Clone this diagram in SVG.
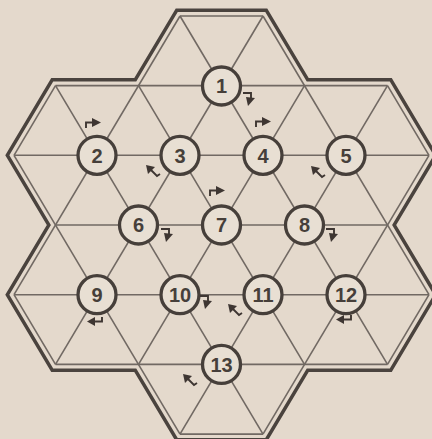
<svg xmlns="http://www.w3.org/2000/svg" width="432" height="439" viewBox="0 0 432 439">
<style>
.bg{fill:#e4d9cc}
.ln{stroke:#716963;stroke-width:1.6;fill:none}
.nd circle{fill:#e8dfd3;stroke:#463f3a;stroke-width:3.3}
.nd text{font-family:"Liberation Sans",Arial,sans-serif;font-weight:bold;font-size:20px;fill:#463f3a;text-anchor:middle}
.ar{fill:#3e3632;stroke:none}
.as{fill:none;stroke:#3e3632;stroke-width:1.9}
</style>
<defs>
<g id="R"><path class="as" d="M1,10 V4.5 H8"/><polygon class="ar" points="7,0 16,4.5 7,9"/></g>
<g id="D"><path class="as" d="M0,1 H8 V6"/><polygon class="ar" points="3,5 12,6 5,14"/></g>
<g id="UL"><polygon class="ar" points="0,0 9,2 2,9"/><path class="as" d="M4,4 L11,11 L14,9"/></g>
<g id="L"><polygon class="ar" points="0,4.5 8,0 8,9"/><path class="as" d="M7,4.5 H15 V0"/></g>
</defs>
<rect class="bg" x="0" y="0" width="432" height="439"/>
<g id="outline">
<polygon points="180,16 263,16 304.5,85.6 387.5,85.6 429,155.3 387.5,225 429,294.7 387.5,364.4 304.5,364.4 263,434.1 180,434.1 138.5,364.4 55.5,364.4 14,294.7 55.5,225 14,155.3 55.5,85.6 138.5,85.6" fill="none" stroke="#4a433e" stroke-width="15" stroke-linejoin="miter"/>
<polygon class="bg" points="180,16 263,16 304.5,85.6 387.5,85.6 429,155.3 387.5,225 429,294.7 387.5,364.4 304.5,364.4 263,434.1 180,434.1 138.5,364.4 55.5,364.4 14,294.7 55.5,225 14,155.3 55.5,85.6 138.5,85.6" stroke="#e4d9cc" stroke-width="8" stroke-linejoin="miter"/>
</g>
<g id="connectors" class="ln">
<line x1="180" y1="16" x2="263" y2="16"/>
<line x1="55.5" y1="85.6" x2="387.5" y2="85.6"/>
<line x1="14" y1="155.3" x2="429" y2="155.3"/>
<line x1="55.5" y1="225" x2="387.5" y2="225"/>
<line x1="14" y1="294.7" x2="429" y2="294.7"/>
<line x1="55.5" y1="364.4" x2="387.5" y2="364.4"/>
<line x1="180" y1="434.1" x2="263" y2="434.1"/>
<line x1="14" y1="294.7" x2="55.5" y2="364.4"/>
<line x1="14" y1="155.3" x2="180" y2="434.1"/>
<line x1="55.5" y1="85.6" x2="263" y2="434.1"/>
<line x1="138.5" y1="85.6" x2="304.5" y2="364.4"/>
<line x1="180" y1="16" x2="387.5" y2="364.4"/>
<line x1="263" y1="16" x2="429" y2="294.7"/>
<line x1="387.5" y1="85.6" x2="429" y2="155.3"/>
<line x1="429" y1="294.7" x2="387.5" y2="364.4"/>
<line x1="429" y1="155.3" x2="263" y2="434.1"/>
<line x1="387.5" y1="85.6" x2="180" y2="434.1"/>
<line x1="304.5" y1="85.6" x2="138.5" y2="364.4"/>
<line x1="263" y1="16" x2="55.5" y2="364.4"/>
<line x1="180" y1="16" x2="14" y2="294.7"/>
<line x1="55.5" y1="85.6" x2="14" y2="155.3"/>
</g>
<g id="n1" class="nd"><circle cx="221.5" cy="86" r="19"/><text x="221.5" y="93.2">1</text></g>
<g id="n2" class="nd"><circle cx="97" cy="155.3" r="19"/><text x="97" y="162.5">2</text></g>
<g id="n3" class="nd"><circle cx="180" cy="155.3" r="19"/><text x="180" y="162.5">3</text></g>
<g id="n4" class="nd"><circle cx="263" cy="155.3" r="19"/><text x="263" y="162.5">4</text></g>
<g id="n5" class="nd"><circle cx="346" cy="155.3" r="19"/><text x="346" y="162.5">5</text></g>
<g id="n6" class="nd"><circle cx="138.5" cy="225" r="19"/><text x="138.5" y="232.2">6</text></g>
<g id="n7" class="nd"><circle cx="221.5" cy="225" r="19"/><text x="221.5" y="232.2">7</text></g>
<g id="n8" class="nd"><circle cx="304.5" cy="225" r="19"/><text x="304.5" y="232.2">8</text></g>
<g id="n9" class="nd"><circle cx="97" cy="294.7" r="19"/><text x="97" y="301.9">9</text></g>
<g id="n10" class="nd"><circle cx="180" cy="294.7" r="19"/><text x="180" y="301.9">10</text></g>
<g id="n11" class="nd"><circle cx="263" cy="294.7" r="19"/><text x="263" y="301.9">11</text></g>
<g id="n12" class="nd"><circle cx="346" cy="294.7" r="19"/><text x="346" y="301.9">12</text></g>
<g id="n13" class="nd"><circle cx="221.5" cy="364.4" r="19"/><text x="221.5" y="371.6">13</text></g>
<g id="arrows">
<use href="#R" x="85" y="118"/>
<use href="#D" x="243" y="92"/>
<use href="#R" x="255" y="117"/>
<use href="#UL" x="146" y="165"/>
<use href="#UL" x="311" y="166"/>
<use href="#D" x="161" y="228"/>
<use href="#R" x="209" y="186"/>
<use href="#D" x="326" y="228"/>
<use href="#L" x="87" y="317"/>
<use href="#D" x="200" y="295"/>
<use href="#UL" x="228" y="304"/>
<use href="#L" x="336" y="315"/>
<use href="#UL" x="183" y="374"/>
</g>
</svg>
